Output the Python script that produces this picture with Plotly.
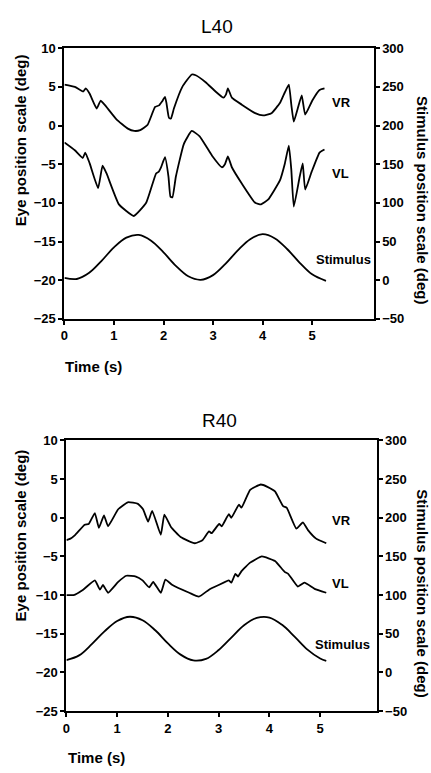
import plotly.graph_objects as go

W, H = 431, 773

# ---------------- data ----------------
# Panel L40
l40_vr_t = [0, 0.21, 0.38, 0.43, 0.51, 0.65, 0.73, 0.81, 1.05, 1.28, 1.41, 1.53, 1.68, 1.83, 1.91, 1.97,
            2.03, 2.06, 2.11, 2.15, 2.21, 2.38, 2.57, 2.65, 2.85, 3.05, 3.21, 3.26, 3.30, 3.38, 3.58, 3.85,
            4.01, 4.18, 4.35, 4.45, 4.53, 4.58, 4.63, 4.71, 4.79, 4.86, 5.01, 5.15, 5.25]
l40_vr_v = [5.3, 5.0, 4.4, 4.8, 4.1, 2.2, 3.2, 2.7, 0.8, -0.4, -0.7, -0.6, 0.1, 2.4, 2.6, 3.1,
            3.7, 2.9, 1.0, 0.9, 2.2, 5.0, 6.6, 6.5, 5.6, 4.4, 3.6, 4.0, 4.8, 3.6, 2.7, 1.6,
            1.3, 1.6, 2.9, 4.3, 5.3, 2.7, 0.5, 2.2, 3.9, 1.4, 3.3, 4.6, 4.8]

l40_vl_t = [0, 0.21, 0.37, 0.42, 0.51, 0.68, 0.77, 0.85, 1.1, 1.4, 1.65, 1.85, 1.90, 1.95, 2.03, 2.10,
            2.14, 2.18, 2.25, 2.41, 2.57, 2.73, 2.98, 3.18, 3.24, 3.30, 3.38, 3.58, 3.85, 3.97, 4.11,
            4.35, 4.45, 4.53, 4.58, 4.63, 4.75, 4.81, 4.86, 4.99, 5.15, 5.25]
l40_vl_v = [-2.2, -3.2, -4.2, -3.5, -4.9, -8.1, -5.2, -6.2, -10.2, -11.7, -10.0, -6.2, -6.0, -5.4, -4.1, -6.6,
            -9.2, -9.3, -6.6, -2.4, -0.7, -1.4, -3.9, -5.4, -5.0, -4.0, -5.4, -7.5, -10.0, -10.2, -9.6,
            -7.1, -4.9, -2.6, -5.7, -10.5, -6.6, -4.9, -8.3, -6.0, -3.5, -3.1]

l40_stim_t = [0, 0.25, 0.5, 0.75, 1.0, 1.25, 1.5, 1.75, 2.0, 2.25, 2.5, 2.75, 3.0, 3.25, 3.5, 3.75,
              4.0, 4.25, 4.5, 4.75, 5.0, 5.28]
l40_stim_v = [3, 1.5, 9.5, 25, 42.5, 55, 58.5, 51, 36, 18.5, 5, 0.5, 6.5, 21, 38.5, 53,
              59.5, 54, 40, 22.5, 7.5, -1]

# Panel R40
r40_vr_t = [0, 0.08, 0.17, 0.36, 0.44, 0.56, 0.64, 0.74, 0.82, 1.02, 1.21, 1.41, 1.51, 1.61, 1.69, 1.86,
            1.93, 2.06, 2.25, 2.53, 2.68, 2.81, 2.86, 3.01, 3.06, 3.20, 3.25, 3.40, 3.45, 3.62, 3.83,
            3.96, 4.11, 4.27, 4.34, 4.53, 4.66, 4.76, 4.92, 5.12]
r40_vr_v = [-2.9, -2.7, -2.25, -0.9, -0.8, 0.6, -1.3, 0.3, -1.1, 1.1, 2.0, 1.8, 1.1, -0.5, 0.9, -2.2,
            0.4, -1.2, -2.5, -3.3, -2.9, -1.75, -2.0, -0.8, -1.1, 0.45, 0.0, 1.7, 1.3, 3.6, 4.3,
            4.0, 3.4, 1.5, 1.3, -1.4, -0.6, -1.6, -2.7, -3.3]

r40_vl_t = [0, 0.14, 0.33, 0.56, 0.66, 0.72, 0.82, 1.02, 1.18, 1.37, 1.50, 1.63, 1.71, 1.86, 1.95, 2.09,
            2.42, 2.61, 2.81, 3.00, 3.20, 3.25, 3.33, 3.38, 3.45, 3.62, 3.85, 4.11, 4.30, 4.37, 4.56,
            4.69, 4.89, 5.12]
r40_vl_v = [-10.0, -10.0, -9.3, -8.1, -9.3, -8.7, -9.7, -8.3, -7.5, -7.6, -8.1, -9.0, -8.3, -9.7, -8.0, -8.7,
            -9.7, -10.2, -9.3, -8.7, -8.1, -8.4, -7.25, -7.6, -6.9, -5.8, -5.0, -5.6, -7.0, -7.25, -8.9,
            -8.4, -9.2, -9.7]

r40_stim_t = [0, 0.25, 0.5, 0.75, 1.0, 1.25, 1.5, 1.75, 2.0, 2.25, 2.5, 2.75, 3.0, 3.25, 3.5, 3.75,
              4.0, 4.25, 4.5, 4.75, 5.0, 5.12]
r40_stim_v = [16, 22, 36.5, 53, 66.5, 72, 67.5, 54.5, 37.5, 23, 15.5, 17.5, 29, 45, 61, 70.5,
              71, 61.5, 46, 29.5, 18, 15]

x_ticks = [0, 1, 2, 3, 4, 5]
eye_ticks = [10, 5, 0, -5, -10, -15, -20, -25]
stim_ticks = [300, 250, 200, 150, 100, 50, 0, -50]

FONT = "Liberation Sans, Arial, sans-serif"
LINE = dict(color="black", width=1.8)

fig = go.Figure()
fig.add_trace(go.Scatter(x=l40_vr_t, y=l40_vr_v, mode="lines", line=dict(**LINE, shape="spline", smoothing=0.4), xaxis="x", yaxis="y"))
fig.add_trace(go.Scatter(x=l40_vl_t, y=l40_vl_v, mode="lines", line=dict(**LINE, shape="spline", smoothing=0.4), xaxis="x", yaxis="y"))
fig.add_trace(go.Scatter(x=l40_stim_t, y=l40_stim_v, mode="lines", line=dict(**LINE, shape="spline"), xaxis="x", yaxis="y2"))
fig.add_trace(go.Scatter(x=r40_vr_t, y=r40_vr_v, mode="lines", line=dict(**LINE, shape="spline", smoothing=0.4), xaxis="x2", yaxis="y3"))
fig.add_trace(go.Scatter(x=r40_vl_t, y=r40_vl_v, mode="lines", line=dict(**LINE, shape="spline", smoothing=0.4), xaxis="x2", yaxis="y3"))
fig.add_trace(go.Scatter(x=r40_stim_t, y=r40_stim_v, mode="lines", line=dict(**LINE, shape="spline"), xaxis="x2", yaxis="y4"))

tickfont = dict(family=FONT, size=13, color="black", weight="bold")

def px(x):
    return x / W

def py(y):
    return 1 - y / H

common_axis = dict(showgrid=False, zeroline=False, showline=True, linecolor="black", linewidth=2,
                   ticks="outside", ticklen=4, tickwidth=1.5, tickcolor="black", tickfont=tickfont)

fig.update_layout(
    width=W, height=H, margin=dict(l=0, r=0, t=0, b=0),
    paper_bgcolor="white", plot_bgcolor="white", showlegend=False,
    xaxis=dict(domain=[px(61), px(373)], range=[0, 6.24], tickvals=x_ticks, anchor="y",
               mirror=True, **common_axis),
    yaxis=dict(domain=[py(318), py(42)], range=[-25, 10], tickvals=eye_ticks, anchor="x", **common_axis),
    yaxis2=dict(overlaying="y", side="right", range=[-50, 300], tickvals=stim_ticks, anchor="x", **common_axis),
    xaxis2=dict(domain=[px(63), px(376)], range=[0, 6.11], tickvals=x_ticks, anchor="y3",
                mirror=True, **common_axis),
    yaxis3=dict(domain=[py(718), py(442)], range=[-25, 10], tickvals=eye_ticks, anchor="x2", **common_axis),
    yaxis4=dict(overlaying="y3", side="right", range=[-50, 300], tickvals=stim_ticks, anchor="x2", **common_axis),
)

def ann(text, x, y, size=13, bold=True, angle=0, xanchor="center"):
    fig.add_annotation(text=text, x=px(x), y=py(y), xref="paper", yref="paper", showarrow=False,
                       textangle=angle, xanchor=xanchor, yanchor="middle",
                       font=dict(family=FONT, size=size, color="black", weight="bold" if bold else "normal"))

# titles
ann("L40", 215, 20, size=19, bold=False)
ann("R40", 218, 422, size=19, bold=False)
# axis titles
ann("Eye position scale (deg)", 17, 136, size=15, angle=-90)
ann("Stimulus position scale (deg)", 423, 197, size=15, angle=90)
ann("Eye position scale (deg)", 17, 539, size=15, angle=-90)
ann("Stimulus position scale (deg)", 423, 598, size=15, angle=90)
ann("Time (s)", 60, 367, size=15, xanchor="left")
ann("Time (s)", 63, 765, size=15, xanchor="left")
# curve labels
ann("VR", 341, 97)
ann("VL", 340, 170)
ann("Stimulus", 343, 257)
ann("VR", 341, 524)
ann("VL", 340, 588)
ann("Stimulus", 342, 650)

fig.write_html("out.html")
